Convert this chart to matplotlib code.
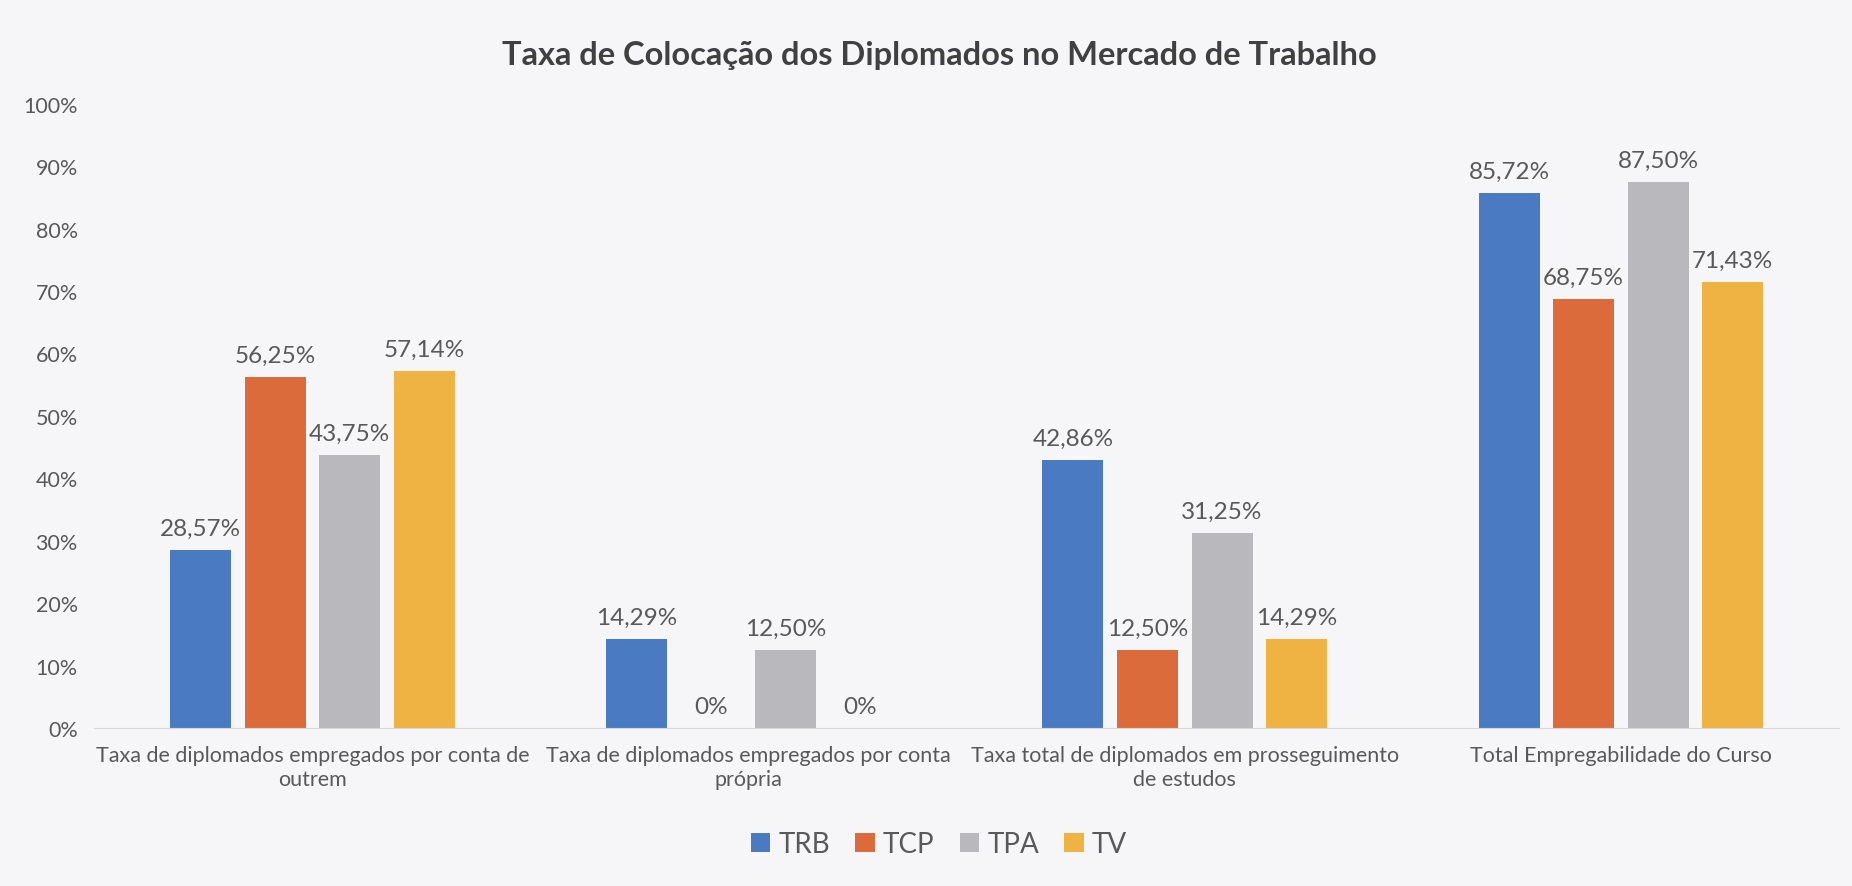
import numpy as np
import matplotlib
matplotlib.use("Agg")
import matplotlib.pyplot as plt
from matplotlib.ticker import MultipleLocator, FuncFormatter

# dados
categorias = [
    "Taxa de diplomados empregados por conta de\noutrem",
    "Taxa de diplomados empregados por conta\nprópria",
    "Taxa total de diplomados em prosseguimento\nde estudos",
    "Total Empregabilidade do Curso",
]
series = ["TRB", "TCP", "TPA", "TV"]
trb = [28.57, 14.29, 42.86, 85.72]
tcp = [56.25, 0.0, 12.50, 68.75]
tpa = [43.75, 12.50, 31.25, 87.50]
tv = [57.14, 0.0, 14.29, 71.43]
valores = [trb, tcp, tpa, tv]

cores = ["#4a7bc2", "#db6b3a", "#b9b9bd", "#eeb342"]
cor_texto = "#595959"
fundo = "#f6f6f8"

plt.rcParams['font.family'] = ['Lato', 'DejaVu Sans']

fig = plt.figure(figsize=(18.52, 8.87), dpi=100, facecolor=fundo)
ax = fig.add_axes([0.051, 0.178, 0.942, 0.704], facecolor=fundo)

x = np.arange(len(categorias))
largura = 0.14
passo = 0.171

def rotulo(v):
    if v == 0:
        return "0%"
    return f"{v:.2f}%".replace(".", ",")

for i, (nome, vals) in enumerate(zip(series, valores)):
    pos = x + (i - 1.5) * passo
    ax.bar(pos, vals, width=largura, color=cores[i], label=nome, zorder=2)
    for xp, v in zip(pos, vals):
        ax.text(xp, v + 1.8, rotulo(v), ha="center", va="bottom",
                fontsize=17.5, color=cor_texto)

ax.set_xlim(-0.5, len(categorias) - 0.5)
ax.set_ylim(0, 100)
ax.yaxis.set_major_locator(MultipleLocator(10))
ax.yaxis.set_major_formatter(FuncFormatter(lambda v, p: f"{v:.0f}%"))

ax.set_xticks(x)
ax.set_xticklabels(categorias, fontsize=15.5, color=cor_texto, linespacing=1.25)
ax.tick_params(axis="x", length=0, pad=12)
ax.tick_params(axis="y", length=0, pad=12, labelsize=15.5, labelcolor=cor_texto)

for lado in ["top", "right", "left"]:
    ax.spines[lado].set_visible(False)
ax.spines["bottom"].set_color("#d9d9d9")

fig.text(0.507, 0.937, "Taxa de Colocação dos Diplomados no Mercado de Trabalho",
         ha="center", va="center", fontsize=23.5, fontweight="bold", color="#404040")

fig.legend(loc="center", bbox_to_anchor=(0.507, 0.047), ncol=4, frameon=False,
           fontsize=20, handlelength=0.7, handleheight=0.7, handletextpad=0.3,
           columnspacing=0.9, labelcolor=cor_texto)

fig.savefig("out.png", dpi=100, facecolor=fundo)
